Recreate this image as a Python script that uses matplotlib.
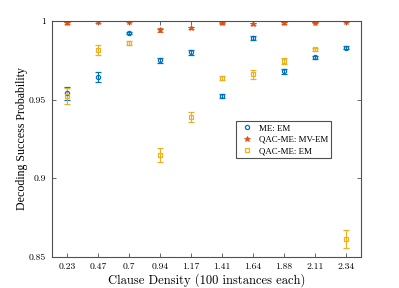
import matplotlib
matplotlib.use("Agg")
import matplotlib.pyplot as plt
from matplotlib.lines import Line2D
import numpy as np

categories = ["0.23", "0.47", "0.7", "0.94", "1.17", "1.41", "1.64", "1.88", "2.11", "2.34"]
me_em = [0.954, 0.9644, 0.9924, 0.975, 0.980, 0.9523, 0.989, 0.968, 0.977, 0.983]
me_em_err = [0.004, 0.003, 0.0008, 0.0018, 0.0015, 0.0015, 0.0012, 0.0018, 0.001, 0.0008]
qac_mv = [0.9987, 0.9994, 0.9995, 0.9943, 0.9956, 0.9985, 0.998, 0.9989, 0.999, 0.9995]
qac_mv_err = [0.0006, 0.0004, 0.0004, 0.0015, 0.0009, 0.0005, 0.0008, 0.0005, 0.0004, 0.0004]
qac_em = [0.9523, 0.9816, 0.986, 0.9148, 0.939, 0.9638, 0.966, 0.9746, 0.982, 0.8614]
qac_em_err = [0.005, 0.003, 0.001, 0.0045, 0.003, 0.0015, 0.003, 0.002, 0.001, 0.0055]
series_names = ["ME: EM", "QAC-ME: MV-EM", "QAC-ME: EM"]
yticks = [0.85, 0.9, 0.95, 1.0]
ytick_labels = ["0.85", "0.9", "0.95", "1"]

blue = "#0072BD"
orange = "#D95319"
yellow = "#EDB120"

fig = plt.figure(figsize=(3.99, 2.88), dpi=100)
ax = fig.add_axes([0.130, 0.108, 0.775, 0.819])
x = np.arange(1, len(categories) + 1)

ax.errorbar(x, me_em, yerr=me_em_err, fmt='o', color=blue, mfc='none', ms=3,
            mew=0.9, elinewidth=0.8, capsize=2.5, capthick=0.8)
ax.errorbar(x, qac_mv, yerr=qac_mv_err, fmt='*', color=orange, ms=4,
            mew=0.6, elinewidth=0.8, capsize=2.5, capthick=0.8)
ax.errorbar(x, qac_em, yerr=qac_em_err, fmt='s', color=yellow, mfc='none', ms=2.6,
            mew=0.9, elinewidth=0.8, capsize=2.5, capthick=0.8)

ax.set_xlim(0.5, 10.5)
ax.set_ylim(0.85, 1.0)
ax.set_xticks(x)
ax.set_xticklabels(categories, family="cmr10", fontsize=7)
ax.set_yticks(yticks)
ax.set_yticklabels(ytick_labels, family="cmr10", fontsize=7)
ax.tick_params(direction='in', length=3, width=0.6, top=True, right=True, color="#505050", pad=4)
for s in ax.spines.values():
    s.set_color("#505050")
    s.set_linewidth(0.8)

ax.set_xlabel("Clause Density (100 instances each)", family="cmr10", fontsize=9, labelpad=2)
ax.set_ylabel("Decoding Success Probability", family="Liberation Serif", fontsize=8.6, labelpad=0.5)

handles = [
    Line2D([], [], ls='none', marker='o', color=blue, mfc='none', ms=3, mew=0.9),
    Line2D([], [], ls='none', marker='*', color=orange, ms=4, mew=0.6),
    Line2D([], [], ls='none', marker='s', color=yellow, mfc='none', ms=2.6, mew=0.9),
]
leg = ax.legend(handles, series_names, loc='upper left', bbox_to_anchor=(0.595, 0.575),
                prop={'family': 'Liberation Serif', 'size': 6.4},
                fancybox=False, framealpha=1, edgecolor="#505050", handlelength=1.8,
                borderpad=0.35, labelspacing=0.35, handletextpad=0.4, borderaxespad=0)
leg.get_frame().set_linewidth(0.8)

fig.savefig("out.png", dpi=100)
